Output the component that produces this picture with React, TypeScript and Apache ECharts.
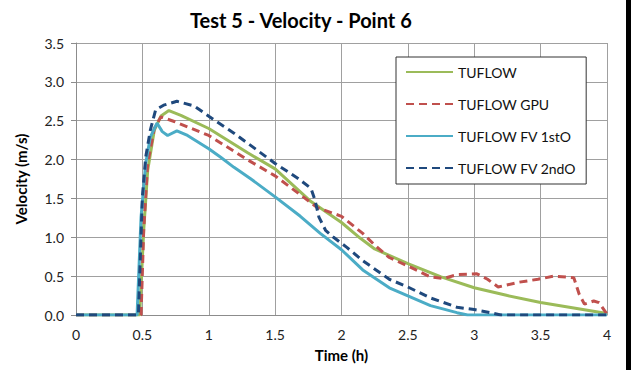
import React, { useEffect, useRef } from "react";
import * as echarts from "echarts";

const seriesNames = ["TUFLOW", "TUFLOW GPU", "TUFLOW FV 1stO", "TUFLOW FV 2ndO"];

const tuflowT = [0, 0.48, 0.51, 0.54, 0.59, 0.64, 0.70, 0.79, 1.0, 1.29, 1.5, 1.77, 2.0, 2.14, 2.25, 2.5, 2.75, 3.0, 3.25, 3.5, 3.75, 4.0];
const tuflowV = [0, 0, 1.09, 1.86, 2.38, 2.56, 2.63, 2.57, 2.40, 2.09, 1.88, 1.46, 1.19, 0.99, 0.85, 0.66, 0.49, 0.35, 0.25, 0.16, 0.09, 0.02];

const gpuT = [0, 0.49, 0.51, 0.54, 0.59, 0.64, 0.74, 1.0, 1.29, 1.5, 1.75, 1.82, 2.0, 2.16, 2.25, 2.36, 2.5, 2.67, 2.77, 2.87, 3.02, 3.1, 3.18, 3.33, 3.48, 3.6, 3.75, 3.79, 3.83, 3.9, 3.94, 4.0];
const gpuV = [0, 0, 1.09, 1.95, 2.40, 2.55, 2.49, 2.31, 2.00, 1.79, 1.47, 1.38, 1.27, 1.05, 0.90, 0.74, 0.63, 0.49, 0.47, 0.52, 0.53, 0.46, 0.36, 0.42, 0.46, 0.50, 0.48, 0.27, 0.14, 0.18, 0.16, 0.01];

const fv1T = [0, 0.46, 0.49, 0.525, 0.56, 0.61, 0.65, 0.69, 0.76, 0.84, 1.0, 1.09, 1.19, 1.31, 1.5, 1.69, 1.84, 2.0, 2.16, 2.36, 2.5, 2.67, 2.87, 2.95, 4.0];
const fv1V = [0, 0, 1.26, 1.95, 2.29, 2.47, 2.36, 2.31, 2.37, 2.31, 2.14, 2.03, 1.90, 1.76, 1.52, 1.27, 1.05, 0.84, 0.58, 0.35, 0.245, 0.12, 0.03, 0, 0];

const fv2T = [0, 0.47, 0.5, 0.525, 0.56, 0.6, 0.66, 0.76, 0.89, 1.04, 1.19, 1.5, 1.67, 1.77, 1.80, 1.83, 1.88, 1.94, 2.04, 2.16, 2.36, 2.5, 2.67, 2.87, 3.0, 3.12, 3.2, 4.0];
const fv2V = [0, 0, 1.52, 2.03, 2.38, 2.64, 2.70, 2.75, 2.69, 2.51, 2.34, 1.95, 1.76, 1.63, 1.48, 1.26, 1.09, 1.0, 0.87, 0.70, 0.46, 0.36, 0.22, 0.10, 0.07, 0.03, 0, 0];

const xTicks = [0, 0.5, 1, 1.5, 2, 2.5, 3, 3.5, 4];
const yTicks = [0, 0.5, 1, 1.5, 2, 2.5, 3, 3.5];

const pairs = (t: number[], v: number[]) => t.map((x, i) => [x, v[i]]);

const FONT = "Lato";

export default function App() {
  const ref = useRef<HTMLDivElement>(null);
  useEffect(() => {
    if (!ref.current) return;
    const chart = echarts.init(ref.current, null, { renderer: "svg" });
    const mk = (name: string, data: number[][], color: string, dash: any) => ({
      name,
      type: "line",
      data,
      symbol: "none",
      showSymbol: false,
      lineStyle: { color, width: 3, type: dash },
      itemStyle: { color },
    });
    chart.setOption({
      animation: false,
      backgroundColor: "#fff",
      title: {
        text: "Test 5 - Velocity - Point 6",
        left: 185,
        top: 5,
        textStyle: { fontFamily: FONT, fontSize: 20, fontWeight: "bold", color: "#000" },
      },
      grid: { left: 76, right: 24, top: 43, bottom: 55 },
      legend: {
        orient: "vertical",
        left: 396,
        top: 57,
        itemWidth: 47,
        itemHeight: 14,
        itemGap: 18,
        padding: [8, 10, 9, 9],
        borderColor: "#333",
        borderWidth: 1,
        backgroundColor: "#fff",
        itemStyle: { opacity: 0, borderWidth: 0 },
        data: seriesNames,
        textStyle: { fontFamily: FONT, fontSize: 14, color: "#111" },
      },
      xAxis: {
        type: "value",
        min: 0,
        max: 4,
        interval: 0.5,
        name: "Time (h)",
        nameLocation: "middle",
        nameGap: 32,
        nameTextStyle: { fontFamily: FONT, fontSize: 15, fontWeight: "bold", color: "#000" },
        axisLine: { lineStyle: { color: "#8c8c8c", width: 1 } },
        axisTick: { show: false },
        splitLine: { show: true, lineStyle: { color: "#a0a0a0", width: 1 } },
        axisLabel: {
          margin: 12,
          fontFamily: FONT,
          fontSize: 14,
          color: "#222",
          formatter: (v: number) => (xTicks.includes(v) ? String(v) : ""),
        },
      },
      yAxis: {
        type: "value",
        min: 0,
        max: 3.5,
        interval: 0.5,
        name: "Velocity (m/s)",
        nameLocation: "middle",
        nameGap: 48,
        nameRotate: 90,
        nameTextStyle: { fontFamily: FONT, fontSize: 15, fontWeight: "bold", color: "#000" },
        axisLine: { show: true, lineStyle: { color: "#8c8c8c", width: 1 } },
        axisTick: { show: true, length: 5, lineStyle: { color: "#8c8c8c" } },
        splitLine: { show: true, lineStyle: { color: "#a0a0a0", width: 1 } },
        axisLabel: {
          margin: 12,
          fontFamily: FONT,
          fontSize: 14,
          color: "#222",
          formatter: (v: number) => (yTicks.includes(v) ? v.toFixed(1) : ""),
        },
      },
      graphic: [
        { type: "rect", right: 0, top: 0, shape: { width: 5, height: 370 }, style: { fill: "#000" } },
      ],
      series: [
        mk(seriesNames[0], pairs(tuflowT, tuflowV), "#9BBB59", "solid"),
        mk(seriesNames[1], pairs(gpuT, gpuV), "#C0504D", [8, 5]),
        mk(seriesNames[2], pairs(fv1T, fv1V), "#4BACC6", "solid"),
        mk(seriesNames[3], pairs(fv2T, fv2V), "#1F497D", [8, 5]),
      ],
    });
    return () => chart.dispose();
  }, []);
  return (
    <div
      ref={ref}
      style={{ position: "fixed", left: 0, top: 0, width: 631, height: 370 }}
    />
  );
}
